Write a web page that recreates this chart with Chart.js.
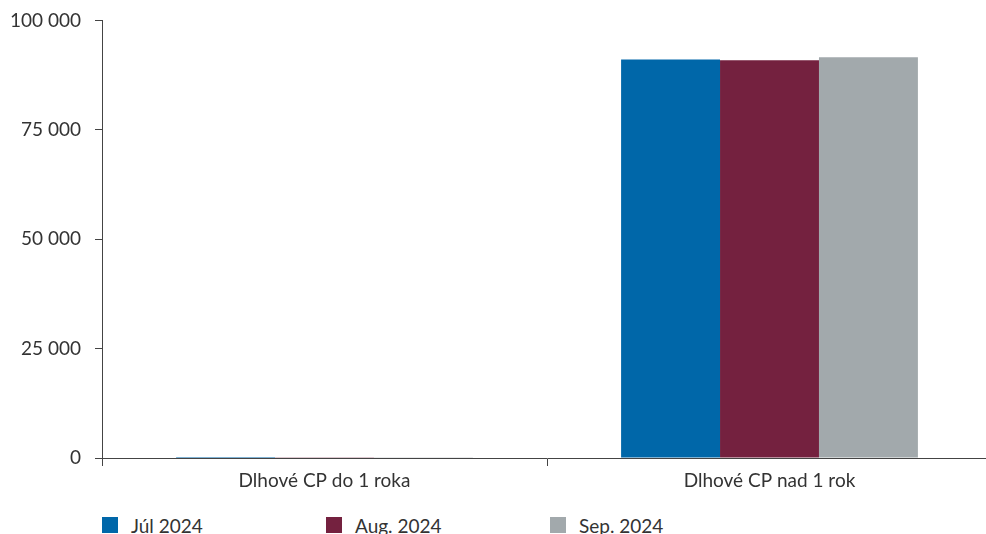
<!DOCTYPE html>
<html>
<head>
<meta charset="utf-8">
<script src="https://cdn.jsdelivr.net/npm/chart.js@4/dist/chart.umd.min.js"></script>
<style>
  html, body { margin: 0; padding: 0; background: #fff; width: 986px; height: 534px; overflow: hidden; font-family: Lato, sans-serif; }
  #wrap { position: absolute; left: 0; top: -5px; width: 992px; height: 505px; }
  #legend { position: absolute; left: 0; top: 515px; width: 986px; height: 20px; }
  .item { position: absolute; top: 0; display: flex; align-items: center; height: 20px; font-size: 19px; color: #333; white-space: nowrap; }
  .box { width: 16px; height: 16px; margin-right: 13px; }
</style>
</head>
<body>
<div id="wrap"><canvas id="c" width="992" height="505"></canvas></div>
<div id="legend"></div>
<script>
const categories = ["Dlhové CP do 1 roka", "Dlhové CP nad 1 rok"];
const seriesNames = ["Júl 2024", "Aug. 2024", "Sep. 2024"];
const julValues = [200, 91050];
const augValues = [180, 90890];
const sepValues = [190, 91570];
const seriesColors = ["#0067A9", "#74213F", "#A2A9AC"];
const yTicks = [0, 25000, 50000, 75000, 100000];

const allValues = [julValues, augValues, sepValues];
const axisColor = "#444";
const textColor = "#333";

function fmt(v) {
  return String(v).replace(/\B(?=(\d{3})+(?!\d))/g, " ");
}

const chart = new Chart(document.getElementById("c"), {
  type: "bar",
  data: {
    labels: categories,
    datasets: seriesNames.map((n, i) => ({
      label: n,
      data: allValues[i],
      backgroundColor: seriesColors[i],
      borderWidth: 0,
      categoryPercentage: 0.667,
      barPercentage: 1.0
    }))
  },
  options: {
    responsive: false,
    animation: false,
    layout: { padding: { left: 0, right: 0, top: 14, bottom: 0 } },
    plugins: { legend: { display: false }, tooltip: { enabled: false } },
    scales: {
      x: {
        grid: { display: true, drawOnChartArea: false, drawTicks: true, tickLength: 8, color: axisColor, offset: true },
        border: { display: true, color: axisColor, width: 1 },
        ticks: { color: textColor, font: { family: "Lato", size: 19 }, padding: 3, maxRotation: 0 },
        afterFit: s => { s.height = 42; }
      },
      y: {
        min: 0, max: 100000,
        afterBuildTicks: s => { s.ticks = yTicks.map(v => ({ value: v })); },
        grid: { display: true, drawOnChartArea: false, drawTicks: true, tickLength: 7, color: axisColor },
        border: { display: true, color: axisColor, width: 1 },
        ticks: { color: textColor, font: { family: "Lato", size: 19 }, padding: 14, callback: v => fmt(v) },
        afterFit: s => { s.width = 102; }
      }
    }
  }
});

const legend = document.getElementById("legend");
seriesNames.forEach((n, i) => {
  const it = document.createElement("div");
  it.className = "item";
  it.style.left = (102 + i * 224) + "px";
  const b = document.createElement("span");
  b.className = "box";
  b.style.background = seriesColors[i];
  const t = document.createElement("span");
  t.textContent = n;
  it.appendChild(b); it.appendChild(t);
  legend.appendChild(it);
});
</script>
</body>
</html>
